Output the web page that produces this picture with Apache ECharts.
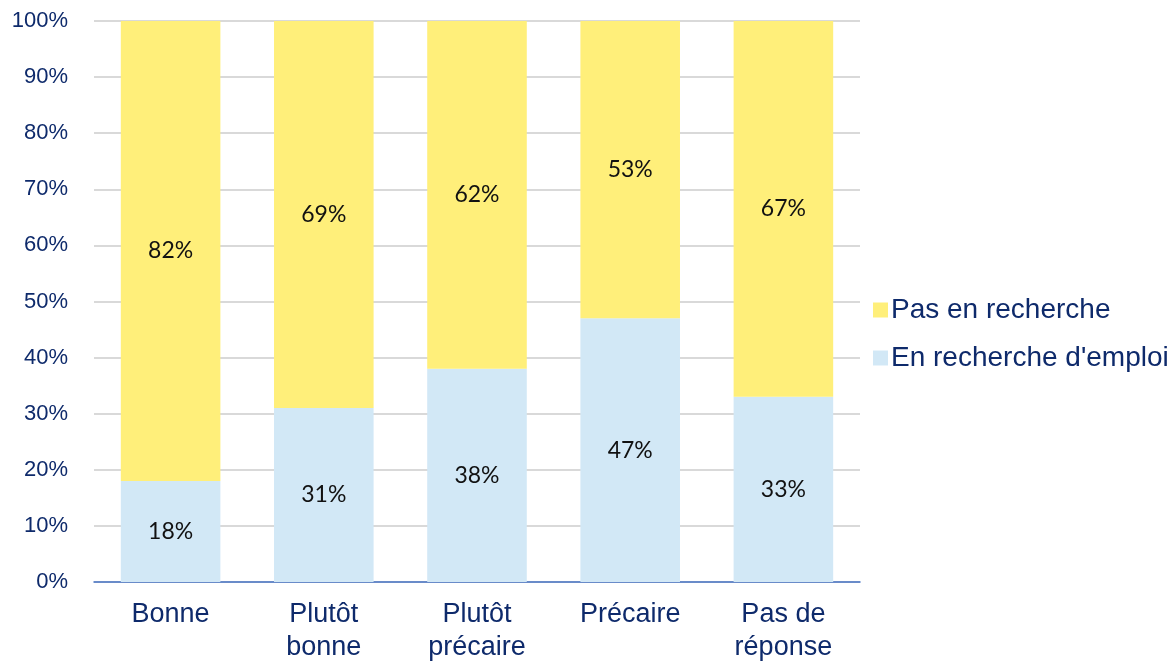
<!DOCTYPE html>
<html>
<head>
<meta charset="utf-8">
<script src="https://cdn.jsdelivr.net/npm/echarts@6/dist/echarts.min.js"></script>
<style>
  html, body { margin: 0; padding: 0; background: #ffffff; }
  #chart { width: 1171px; height: 663px; }
</style>
</head>
<body>
<div id="chart"></div>
<script>
// Catégories (situation financière perçue)
const categories = ['Bonne', 'Plutôt\nbonne', 'Plutôt\nprécaire', 'Précaire', 'Pas de\nréponse'];
// Part en recherche d'emploi (%)
const enRecherche = [18, 31, 38, 47, 33];
// Part pas en recherche (%)
const pasEnRecherche = [82, 69, 62, 53, 67];
// Graduations de l'axe vertical
const yTicks = [0, 10, 20, 30, 40, 50, 60, 70, 80, 90, 100];

const navy = '#0E2A6B';
const labelStyle = {
  show: true,
  position: 'inside',
  formatter: p => p.value + '%',
  color: '#111111',
  fontFamily: 'Lato, "Open Sans", sans-serif',
  fontSize: 23
};

const chart = echarts.init(document.getElementById('chart'), null, { renderer: 'canvas' });
chart.setOption({
  animation: false,
  backgroundColor: '#ffffff',
  grid: { left: 94, right: 311, top: 21, bottom: 81, containLabel: false, outerBoundsMode: 'none' },
  legend: {
    orient: 'vertical',
    left: 868,
    top: 291,
    itemWidth: 15,
    itemHeight: 15,
    itemGap: 20,
    icon: 'rect',
    data: ['Pas en recherche', "En recherche d'emploi"],
    textStyle: { color: navy, fontSize: 28, fontFamily: '"Liberation Sans", Arial, sans-serif', padding: [0, 0, 0, -2] }
  },
  xAxis: {
    type: 'category',
    data: categories,
    axisLine: { lineStyle: { color: '#4472C4', width: 1.5 } },
    axisTick: { show: false },
    axisLabel: {
      color: navy,
      fontSize: 27,
      lineHeight: 33,
      margin: 16,
      fontFamily: '"Liberation Sans", Arial, sans-serif'
    }
  },
  yAxis: {
    type: 'value',
    min: yTicks[0],
    max: yTicks[yTicks.length - 1],
    interval: 10,
    axisLine: { show: false },
    axisTick: { show: false },
    splitLine: { lineStyle: { color: '#D9D9D9', width: 2 } },
    axisLabel: {
      color: navy,
      fontSize: 22,
      margin: 26,
      fontFamily: '"Liberation Sans", Arial, sans-serif',
      formatter: v => v + '%'
    }
  },
  series: [
    {
      name: "En recherche d'emploi",
      type: 'bar',
      stack: 'total',
      data: enRecherche,
      barWidth: '65%',
      itemStyle: { color: '#D2E8F6' },
      label: labelStyle
    },
    {
      name: 'Pas en recherche',
      type: 'bar',
      stack: 'total',
      data: pasEnRecherche,
      barWidth: '65%',
      itemStyle: { color: '#FFEF7A' },
      label: labelStyle
    }
  ]
});
</script>
</body>
</html>
